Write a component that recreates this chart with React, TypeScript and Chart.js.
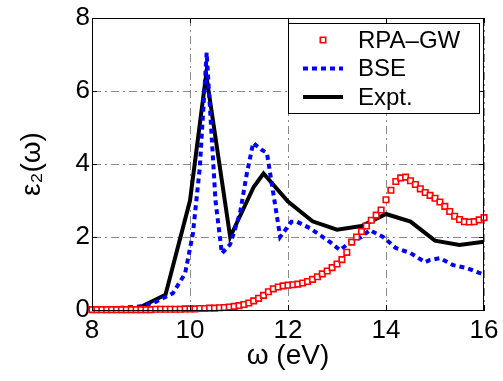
import React, { useEffect, useRef } from "react";
import { Chart, registerables } from "chart.js";

Chart.register(...registerables);

// RPA-GW (red squares)
const rpaX = [
  8.0, 8.1, 8.2, 8.3, 8.4, 8.5, 8.6, 8.7, 8.8, 8.9,
  9.0, 9.1, 9.2, 9.3, 9.4, 9.5, 9.6, 9.7, 9.8, 9.9,
  10.0, 10.1, 10.2, 10.3, 10.4, 10.5, 10.6, 10.7, 10.8, 10.9,
  11.0, 11.1, 11.2, 11.3, 11.4, 11.5, 11.6, 11.7, 11.8, 11.9,
  12.0, 12.1, 12.2, 12.3, 12.4, 12.5, 12.6, 12.7, 12.8, 12.9,
  13.0, 13.1, 13.2, 13.3, 13.4, 13.5, 13.6, 13.7, 13.8, 13.9,
  14.0, 14.1, 14.2, 14.3, 14.4, 14.5, 14.6, 14.7, 14.8, 14.9,
  15.0, 15.1, 15.2, 15.3, 15.4, 15.5, 15.6, 15.7, 15.8, 15.9, 16.0,
];
const rpaY = [
  0.01, 0.01, 0.01, 0.01, 0.01, 0.01, 0.01, 0.01, 0.01, 0.01,
  0.01, 0.01, 0.01, 0.02, 0.02, 0.02, 0.02, 0.02, 0.02, 0.03,
  0.03, 0.03, 0.04, 0.04, 0.05, 0.05, 0.06, 0.07, 0.08, 0.1,
  0.12, 0.15, 0.19, 0.25, 0.32, 0.4, 0.5, 0.58, 0.63, 0.66,
  0.68, 0.69, 0.71, 0.74, 0.78, 0.84, 0.91, 0.99, 1.07, 1.16,
  1.26, 1.38, 1.58, 1.86, 2.0, 2.15, 2.3, 2.46, 2.6, 2.74,
  3.02, 3.28, 3.52, 3.62, 3.64, 3.54, 3.44, 3.32, 3.22, 3.14,
  3.06, 2.96, 2.84, 2.7, 2.57, 2.48, 2.42, 2.41, 2.42, 2.47, 2.53,
];

// BSE (blue dotted)
const bseX = [
  8.0, 8.5, 9.0, 9.3, 9.65, 9.9, 10.06, 10.2, 10.34, 10.44, 10.52, 10.65,
  10.82, 11.02, 11.16, 11.29, 11.45, 11.57, 11.7, 11.84, 12.07, 12.18,
  12.45, 12.86, 13.06, 13.27, 13.5, 13.67, 13.94, 14.2, 14.5, 14.8, 14.9,
  15.1, 15.37, 15.65, 16.0,
];
const bseY = [
  0.05, 0.05, 0.1, 0.22, 0.46, 1.0, 2.1, 3.9, 7.05, 4.8, 3.0, 1.55,
  1.8, 2.65, 3.74, 4.58, 4.4, 4.3, 3.2, 2.0, 2.42, 2.42,
  2.24, 1.86, 1.64, 1.86, 2.0, 2.19, 2.0, 1.7, 1.56, 1.31, 1.37,
  1.42, 1.23, 1.15, 0.97,
];

// Expt. (black solid)
const exptX = [9.0, 9.5, 10.0, 10.33, 10.82, 11.3, 11.5, 12.0, 12.5, 13.0, 13.5, 14.0, 14.5, 15.0, 15.5, 16.0];
const exptY = [0.09, 0.42, 3.0, 6.45, 2.0, 3.37, 3.74, 2.97, 2.43, 2.2, 2.3, 2.63, 2.42, 1.9, 1.78, 1.87];

const xTicks = [8, 10, 12, 14, 16];
const yTicks = [0, 2, 4, 6, 8];
const seriesNames = ["RPA\u2013GW", "BSE", "Expt."];
const xTitle = "\u03c9 (eV)";
const yTitle = "\u03b5\u2082(\u03c9)";

const FONT = "'Liberation Sans', Arial, Helvetica, sans-serif";

const toPts = (xs: number[], ys: number[]) => xs.map((x, i) => ({ x, y: ys[i] }));

const framePlugin = {
  id: "frameAndLegend",
  afterDraw(chart: any) {
    const { ctx, chartArea, scales } = chart;
    const { left, right, top, bottom } = chartArea;
    ctx.save();
    // frame
    ctx.strokeStyle = "#000";
    ctx.lineWidth = 1;
    ctx.setLineDash([]);
    ctx.strokeRect(left + 0.5, top + 0.5, right - left - 1, bottom - top);
    // inward tick marks
    const tk = 5;
    ctx.beginPath();
    xTicks.forEach((v) => {
      const px = Math.round(scales.x.getPixelForValue(v)) + 0.5;
      ctx.moveTo(px, bottom);
      ctx.lineTo(px, bottom - tk);
      ctx.moveTo(px, top);
      ctx.lineTo(px, top + tk);
    });
    yTicks.forEach((v) => {
      const py = Math.round(scales.y.getPixelForValue(v)) + 0.5;
      ctx.moveTo(left, py);
      ctx.lineTo(left + tk, py);
      ctx.moveTo(right, py);
      ctx.lineTo(right - tk, py);
    });
    ctx.stroke();
    // legend box
    const bw = 191, bh = 90;
    const bx = right - 5 - bw;
    const by = top + 5;
    ctx.fillStyle = "#fff";
    ctx.fillRect(bx, by, bw, bh);
    ctx.strokeRect(bx + 0.5, by + 0.5, bw, bh);
    const sx0 = bx + 15, sx1 = bx + 55, tx = bx + 70;
    const rows = [by + 17, by + 45.5, by + 74];
    // row 1: red square
    ctx.strokeStyle = "#ff0000";
    ctx.lineWidth = 1.6;
    ctx.fillStyle = "#fff";
    const cx = (sx0 + sx1) / 2;
    ctx.beginPath();
    ctx.rect(cx - 2.7, rows[0] - 2.7, 5.4, 5.4);
    ctx.fill();
    ctx.stroke();
    // row 2: blue dotted
    ctx.strokeStyle = "#0000ff";
    ctx.lineWidth = 4;
    ctx.setLineDash([5, 4]);
    ctx.beginPath();
    ctx.moveTo(sx0, rows[1]);
    ctx.lineTo(sx1, rows[1]);
    ctx.stroke();
    // row 3: black solid
    ctx.setLineDash([]);
    ctx.strokeStyle = "#000";
    ctx.beginPath();
    ctx.moveTo(sx0, rows[2]);
    ctx.lineTo(sx1, rows[2]);
    ctx.stroke();
    // texts
    ctx.fillStyle = "#000";
    ctx.font = `24px ${FONT}`;
    ctx.textBaseline = "middle";
    ctx.textAlign = "left";
    seriesNames.forEach((n, i) => ctx.fillText(n, tx, rows[i] + 1));
    ctx.restore();
  },
};

export default function App() {
  const ref = useRef<HTMLCanvasElement | null>(null);
  useEffect(() => {
    document.body.style.margin = "0";
    if (!ref.current) return;
    const gridColor = "#8a8a8a";
    const chart = new Chart(ref.current, {
      type: "line",
      data: {
        datasets: [
          {
            label: seriesNames[0],
            data: toPts(rpaX, rpaY),
            showLine: false,
            pointStyle: "rect",
            pointRadius: 3.9,
            pointBorderWidth: 1.6,
            pointBorderColor: "#ff0000",
            pointBackgroundColor: "#ffffff",
            borderColor: "#ff0000",
            backgroundColor: "#ffffff",
            clip: 6,
          },
          {
            label: seriesNames[1],
            data: toPts(bseX, bseY),
            borderColor: "#0000ff",
            borderWidth: 4,
            borderDash: [5, 4],
            pointRadius: 0,
            tension: 0,
            fill: false,
          },
          {
            label: seriesNames[2],
            data: toPts(exptX, exptY),
            borderColor: "#000000",
            borderWidth: 4,
            pointRadius: 0,
            tension: 0,
            fill: false,
          },
        ],
      },
      options: {
        responsive: false,
        animation: false,
        layout: { padding: { top: 18, right: 19, left: 0, bottom: 0 } },
        plugins: { legend: { display: false }, tooltip: { enabled: false } },
        scales: {
          x: {
            type: "linear",
            min: 8,
            max: 16,
            afterBuildTicks: (s: any) => {
              s.ticks = xTicks.map((v) => ({ value: v }));
            },
            afterFit: (s: any) => {
              s.height = 71;
            },
            ticks: {
              color: "#000",
              padding: 2,
              font: { family: FONT, size: 26 },
            },
            grid: {
              color: gridColor,
              lineWidth: 1,
              drawTicks: true,
              tickLength: 3,
              tickColor: "rgba(0,0,0,0)",
            },
            border: { display: true, color: "#000", width: 1, dash: [8, 4, 2, 4] },
            title: {
              display: true,
              text: xTitle,
              color: "#000",
              font: { family: FONT, size: 28 },
              padding: { top: 0, bottom: 8 },
            },
          },
          y: {
            type: "linear",
            min: 0,
            max: 8,
            afterBuildTicks: (s: any) => {
              s.ticks = yTicks.map((v) => ({ value: v }));
            },
            afterFit: (s: any) => {
              s.width = 92;
            },
            ticks: {
              color: "#000",
              padding: 2,
              font: { family: FONT, size: 26 },
            },
            grid: { color: gridColor, lineWidth: 1, drawTicks: false },
            border: { display: true, color: "#000", width: 1, dash: [8, 4, 2, 4] },
            title: {
              display: true,
              text: yTitle,
              color: "#000",
              font: { family: FONT, size: 28 },
              padding: { top: 15, bottom: 0 },
            },
          },
        },
      },
      plugins: [framePlugin],
    });
    return () => chart.destroy();
  }, []);
  return <canvas ref={ref} width={503} height={381} style={{ display: "block" }} />;
}
